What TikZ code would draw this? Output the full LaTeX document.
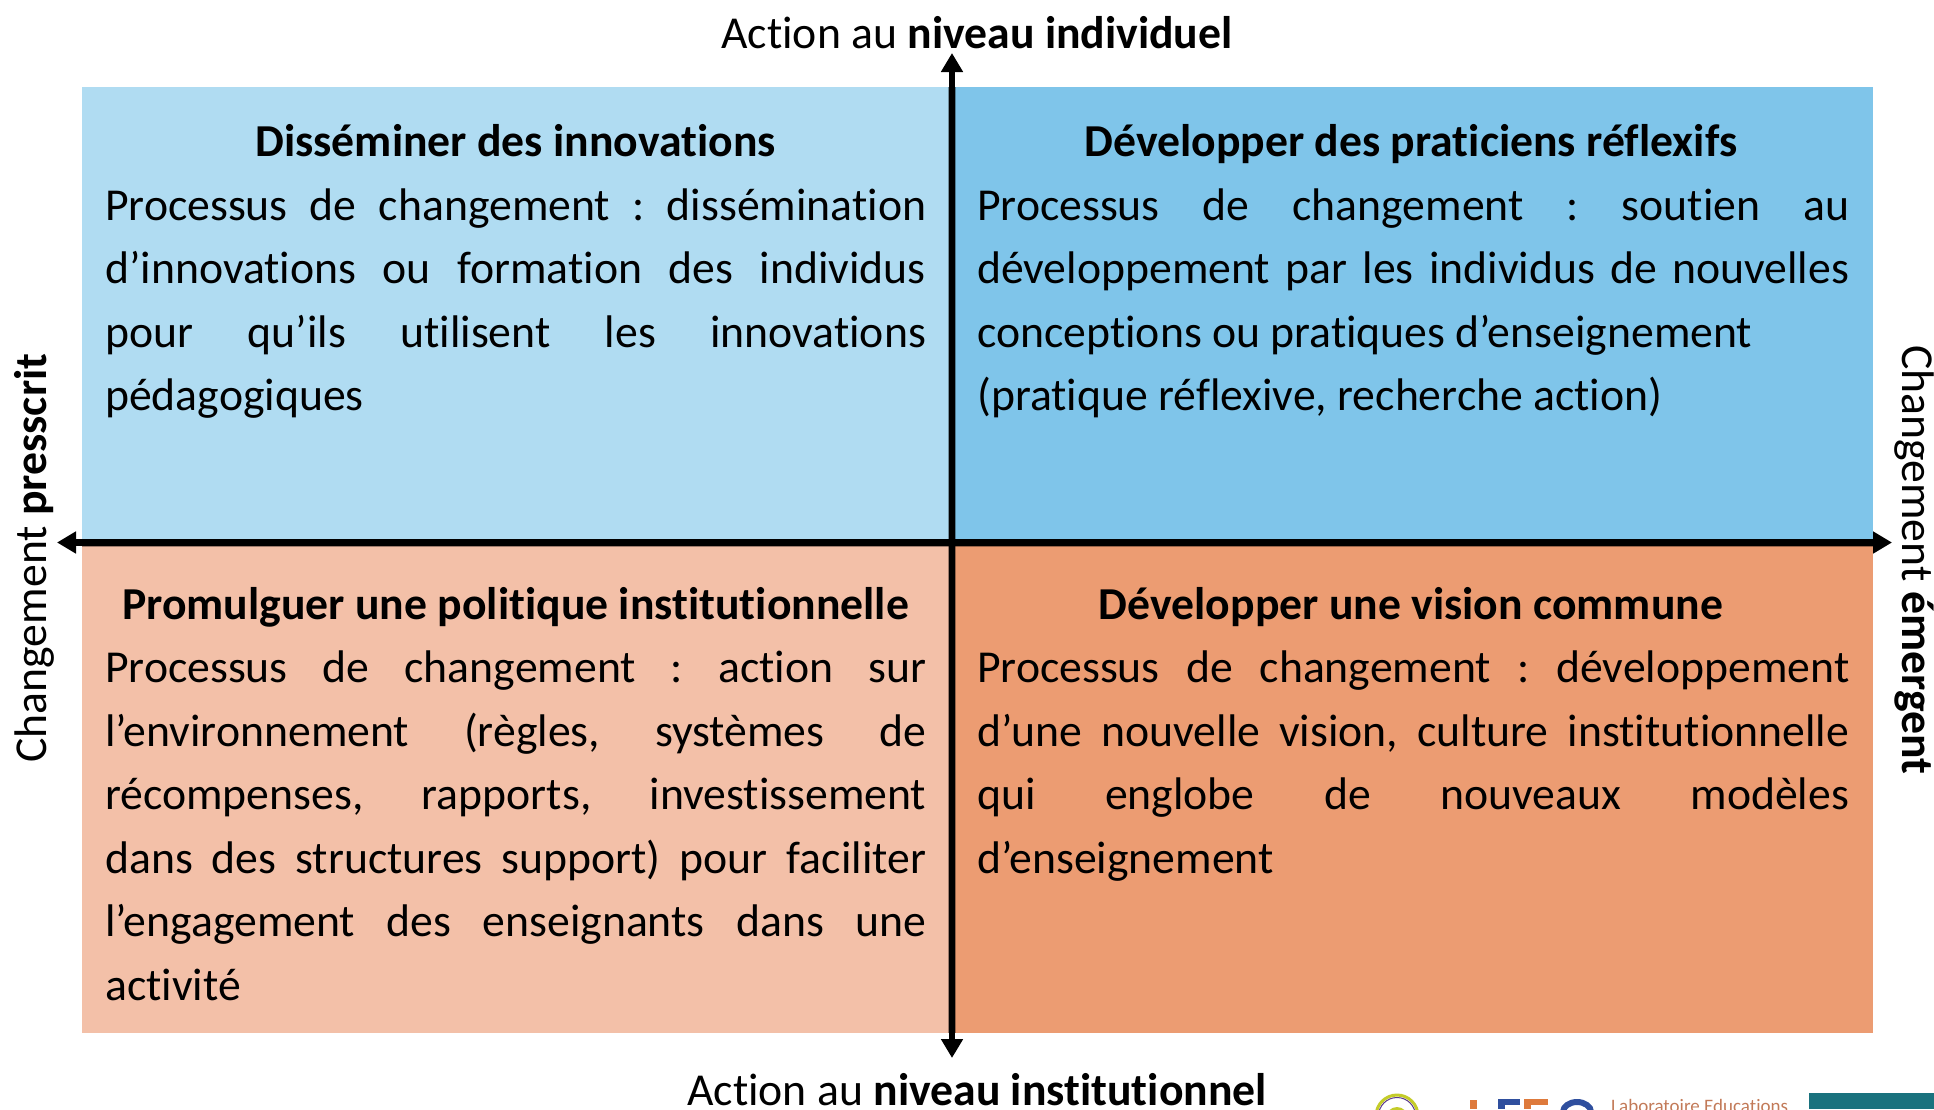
\documentclass[tikz,border=0pt]{standalone}
\usepackage{fontspec}
\setmainfont[Ligatures=NoCommon]{Carlito}
\usetikzlibrary{arrows.meta}
\definecolor{qa}{HTML}{B0DCF2}
\definecolor{qb}{HTML}{7FC5EA}
\definecolor{qc}{HTML}{F3C0A8}
\definecolor{qd}{HTML}{EC9C72}
\definecolor{teal}{HTML}{1A727E}
\definecolor{logoor}{HTML}{DE7A3C}
\definecolor{logobl}{HTML}{2F4F9E}
\definecolor{logotx}{HTML}{C27A58}
\definecolor{logoye}{HTML}{C4CC2A}
\definecolor{logopu}{HTML}{5A3A8C}
\tikzset{
  x=1pt,y=-1pt,
  title/.style={inner sep=0pt,anchor=base,font=\fontsize{45.7}{55}\selectfont\bfseries},
  body/.style={inner sep=0pt,anchor=north west,text width=#1,align=justify,
    font=\fontsize{45.7}{63.5}\selectfont},
  axis/.style={line width=6.5pt,-{Triangle[length=19pt,width=21pt]}},
  axisedge/.style={line width=8pt,black,opacity=.35},
  side/.style={inner sep=0pt,anchor=base,font=\fontsize{45.7}{55}\selectfont},
}
\newcommand{\tightjust}{\frenchspacing\tolerance=10000\hbadness=10000\hfuzz=30pt\emergencystretch=200pt\parfillskip=0pt plus 1fil\relax}
\begin{document}
\begin{tikzpicture}
\useasboundingbox (0,0) rectangle (1934,1109);
% quadrants
\fill[qa] (81.5,87) rectangle (952,542.5);
\fill[qb] (952,87) rectangle (1873,542.5);
\fill[qc] (81.5,542.5) rectangle (952,1033);
\fill[qd] (952,542.5) rectangle (1873,1033);
% axes
\coordinate (centre) at (952,542.5);
\coordinate (topend) at (952,53);
\coordinate (botend) at (952,1058);
\coordinate (leftend) at (57,542.5);
\coordinate (rightend) at (1892,542.5);
\coordinate (edgeT) at (952,87);
\coordinate (edgeB) at (952,1033);
\coordinate (edgeL) at (81.5,542.5);
\coordinate (edgeR) at (1873,542.5);
\draw[axisedge] (edgeT) -- (edgeB);
\draw[axisedge] (edgeL) -- (edgeR);
\draw[axis] (centre) -- (topend);
\draw[axis] (centre) -- (botend);
\draw[axis] (centre) -- (leftend);
\draw[axis] (centre) -- (rightend);
% axis labels
\node[side] (lt) at (977,48) {Action au \textbf{niveau individuel}};
\node[side] (lb) at (977,1105) {Action au \textbf{niveau institutionnel}};
\node[side,rotate=90] (ll) at (46,558) {Changement \textbf{presscrit}};
\node[side,rotate=-90] (lr) at (1902,560) {Changement \textbf{émergent}};
% titles
\node[title] (ta) at (515.5,156.5) {Disséminer des innovations};
\node[title] (tb) at (1411,156.5) {Développer des praticiens réflexifs};
\node[title] (tc) at (515.5,619.5) {Promulguer une politique institutionnelle};
\node[title] (td) at (1411,619.5) {Développer une vision commune};
% bodies
\node[body=821pt] (ba) at (105,188.5) {\tightjust Processus de changement : dissémination\linebreak d’innovations ou formation des individus\linebreak pour qu’ils utilisent les innovations\linebreak pédagogiques};
\node[body=872pt] (bb) at (977,188.5) {\tightjust Processus de changement : soutien au\linebreak développement par les individus de nouvelles\linebreak conceptions ou pratiques d’enseignement\newline (pratique réflexive, recherche action)};
\node[body=821pt] (bc) at (105,651) {\tightjust Processus de changement : action sur\linebreak l’environnement (règles, systèmes de\linebreak récompenses, rapports, investissement\linebreak dans des structures support) pour faciliter\linebreak l’engagement des enseignants dans une\linebreak activité};
\node[body=872pt] (bd) at (977,651) {\tightjust Processus de changement : développement\linebreak d’une nouvelle vision, culture institutionnelle\linebreak qui englobe de nouveaux modèles\linebreak d’enseignement};
% cropped logos
\draw[logoye,line width=3pt] (1397,1116) circle (21pt);
\draw[logopu,line width=1pt] (1397,1116) circle (18.5pt);
\fill[logoye] (1397,1118) circle (11pt);
\fill[logoor] (1470,1100) rectangle (1477,1109);
\fill[logobl] (1498,1099) rectangle (1520,1105);
\fill[logobl] (1498,1099) rectangle (1505,1109);
\fill[logoor] (1524,1099) rectangle (1548,1105);
\fill[logoor] (1524,1099) rectangle (1531,1109);
\draw[logobl,line width=6pt] (1563,1112) arc (180:0:14pt and 10pt);
\node[inner sep=0pt,anchor=base west,text=logotx,font=\fontsize{19}{22}\selectfont] (logotext) at (1611,1112) {Laboratoire Educations};
\fill[teal] (1809,1093) rectangle (1934,1109);
\end{tikzpicture}
\end{document}
